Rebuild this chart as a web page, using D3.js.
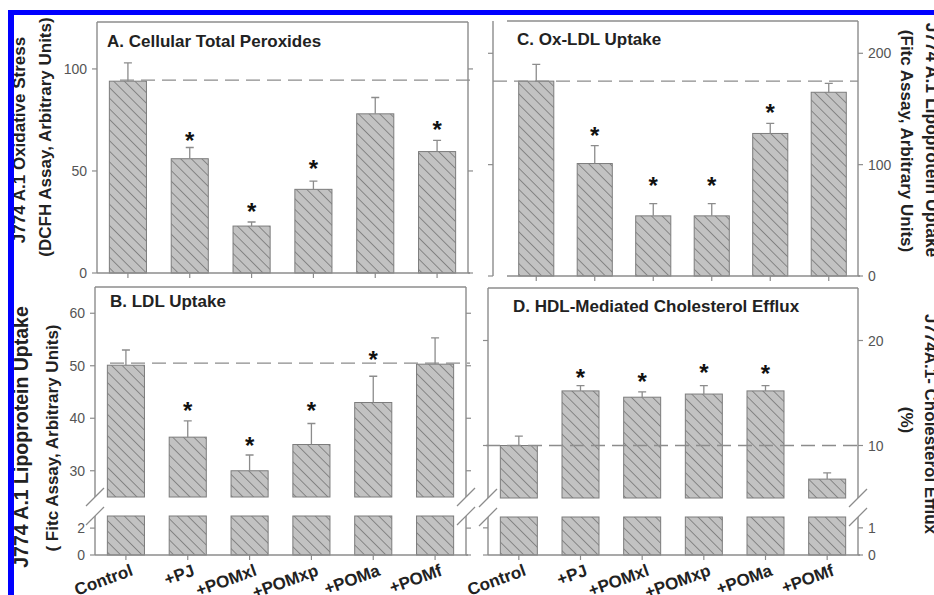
<!DOCTYPE html>
<html lang="en">
<head>
<meta charset="UTF-8">
<title>J774 A.1 macrophage assays</title>
<script src="https://d3js.org/d3.v7.min.js"></script>
<style>
  body { margin: 0; background: #fff; }
  svg { display: block; font-family: "Liberation Sans", Arial, sans-serif; }
  .frame { stroke: #8c8c8c; stroke-width: 1.4; fill: none; }
  .tick { stroke: #8c8c8c; stroke-width: 1.2; }
  .ticklab { fill: #555; font-size: 14px; }
  .bar { fill: url(#hatch); stroke: #7c7c7c; stroke-width: 1; }
  .err { stroke: #8c8c8c; stroke-width: 1.3; fill: none; }
  .ref { stroke: #8c8c8c; stroke-width: 1.4; stroke-dasharray: 14 7; fill: none; }
  .star { font-size: 24px; font-weight: bold; fill: #111; }
  .ptitle { font-size: 17px; font-weight: bold; fill: #222; }
  .atitle { font-size: 17px; font-weight: bold; fill: #222; }
  .xlab { font-size: 17px; font-weight: bold; fill: #222; }
</style>
</head>
<body>
<svg id="fig" width="934" height="595"></svg>
<script>
const categories = ["Control", "+PJ", "+POMxl", "+POMxp", "+POMa", "+POMf"];

// A. cellular total peroxides
const peroxMean = [94, 56, 23, 41, 78, 59.5];
const peroxErr = [9, 5.5, 2, 4, 8, 5.5];
const peroxStar = [null, 67.6, 32.4, 53.9, null, 73];
const peroxRef = 94.5;
const peroxTicks = [0, 50, 100];

// B. LDL uptake
const ldlMean = [50.1, 36.4, 30, 35, 43, 50.3];
const ldlErr = [2.9, 3.1, 3, 4, 5, 5];
const ldlStar = [null, 42.5, 35.7, 42.5, 52.2, null];
const ldlRef = 50.5;
const ldlTicksHigh = [30, 40, 50, 60];
const ldlTicksLow = [0, 2];

// C. Ox-LDL uptake
const oxMean = [175, 101, 54, 54, 128, 165];
const oxErr = [15, 16, 11, 11, 9, 8];
const oxStar = [null, 131, 86, 86, 151, null];
const oxRef = 175;
const oxTicks = [0, 100, 200];

// D. HDL-mediated cholesterol efflux
const effluxMean = [10, 15.2, 14.6, 14.9, 15.2, 6.8];
const effluxErr = [0.9, 0.5, 0.5, 0.8, 0.5, 0.6];
const effluxStar = [null, 17, 16.6, 17.4, 17.3, null];
const effluxRef = 10;
const effluxTicksHigh = [10, 20];
const effluxTicksLow = [0, 1];

const svg = d3.select("#fig");

// diagonal hatch for the bars
svg.append("defs").append("pattern")
  .attr("id", "hatch")
  .attr("patternUnits", "userSpaceOnUse")
  .attr("width", 7.5).attr("height", 7.5)
  .attr("patternTransform", "rotate(-45)")
  .call(p => {
    p.append("rect").attr("width", 7.5).attr("height", 7.5).attr("fill", "#c2c2c2");
    p.append("line").attr("x1", 0).attr("y1", 0).attr("x2", 0).attr("y2", 7.5)
      .attr("stroke", "#5e5e5e").attr("stroke-width", 1.2);
  });

function panel(p) {
  const g = svg.append("g");
  const x = d3.scaleBand().domain(categories).range([p.left, p.right])
    .paddingInner(0.4).paddingOuter(0.2);
  const segs = p.segments.map(s => ({
    lo: s.domain[0], hi: s.domain[1], ticks: s.ticks,
    y: d3.scaleLinear().domain(s.domain).range(s.range)
  }));
  const topSeg = segs[segs.length - 1];
  const leftX = p.leftLine || p.left;

  // bars, clipped to each segment
  segs.forEach(s => {
    g.selectAll(null).data(p.mean.filter(v => v > s.lo).map((v, i) => [v, i]))
      .enter().append("rect")
      .attr("class", "bar")
      .attr("x", d => x(categories[d[1]]))
      .attr("width", x.bandwidth())
      .attr("y", d => s.y(Math.min(d[0], s.hi)))
      .attr("height", d => s.y(s.lo) - s.y(Math.min(d[0], s.hi)));
  });

  // frame
  g.append("line").attr("class", "frame")
    .attr("x1", p.topFrom || p.left).attr("x2", p.right)
    .attr("y1", topSeg.y(topSeg.hi)).attr("y2", topSeg.y(topSeg.hi));
  g.append("line").attr("class", "frame")
    .attr("x1", p.left).attr("x2", p.right + 2)
    .attr("y1", segs[0].y(segs[0].lo)).attr("y2", segs[0].y(segs[0].lo));
  segs.forEach(s => {
    [leftX, p.right].forEach(xx => {
      g.append("line").attr("class", "frame")
        .attr("x1", xx).attr("x2", xx)
        .attr("y1", s.y(s.lo)).attr("y2", s.y(s.hi));
    });
    s.ticks.forEach(t => {
      g.append("line").attr("class", "tick")
        .attr("x1", leftX - 5).attr("x2", leftX).attr("y1", s.y(t)).attr("y2", s.y(t));
      g.append("line").attr("class", "tick")
        .attr("x1", p.right).attr("x2", p.right + 5).attr("y1", s.y(t)).attr("y2", s.y(t));
      const onLeft = p.labelSide === "left";
      g.append("text").attr("class", "ticklab")
        .attr("x", onLeft ? leftX - 10 : p.right + 10)
        .attr("y", s.y(t)).attr("dy", "0.36em")
        .attr("text-anchor", onLeft ? "end" : "start")
        .text(t);
    });
  });

  // axis break marks
  if (segs.length > 1) {
    [leftX, p.right].forEach(xx => {
      [segs[1].y(segs[1].lo), segs[0].y(segs[0].hi)].forEach(yy => {
        g.append("line").attr("class", "tick")
          .attr("x1", xx - 9).attr("y1", yy + 9).attr("x2", xx + 9).attr("y2", yy - 9);
      });
    });
  }

  // category ticks
  g.selectAll(null).data(categories).enter().append("line")
    .attr("class", "tick")
    .attr("x1", d => x(d) + x.bandwidth() / 2).attr("x2", d => x(d) + x.bandwidth() / 2)
    .attr("y1", segs[0].y(segs[0].lo)).attr("y2", segs[0].y(segs[0].lo) + 5);

  // reference (control) level
  g.append("line").attr("class", "ref")
    .attr("x1", p.refFrom).attr("x2", p.refTo)
    .attr("y1", topSeg.y(p.ref)).attr("y2", topSeg.y(p.ref));

  // error bars (upper only)
  categories.forEach((c, i) => {
    const cx = x(c) + x.bandwidth() / 2;
    const y0 = topSeg.y(p.mean[i]), y1 = topSeg.y(p.mean[i] + p.err[i]);
    g.append("path").attr("class", "err")
      .attr("d", `M${cx},${y0}V${y1}M${cx - 4},${y1}H${cx + 4}`);
    if (p.star[i] != null) {
      g.append("text").attr("class", "star")
        .attr("x", cx).attr("y", topSeg.y(p.star[i]) + 13.5)
        .attr("text-anchor", "middle").text("*");
    }
  });

  g.append("text").attr("class", "ptitle")
    .attr("x", p.titleX).attr("y", p.titleY).text(p.title);

  if (p.xLabels) {
    g.selectAll(null).data(categories).enter().append("text")
      .attr("class", "xlab")
      .attr("text-anchor", "end")
      .attr("transform", d => `translate(${x(d) + x.bandwidth() / 2 + 8},${segs[0].y(segs[0].lo) + 20}) rotate(-20)`)
      .text(d => d);
  }
}

panel({
  title: "A. Cellular Total Peroxides", titleX: 107, titleY: 47,
  left: 97, right: 468, labelSide: "left",
  segments: [{ domain: [0, 123], range: [273, 22], ticks: peroxTicks }],
  mean: peroxMean, err: peroxErr, star: peroxStar,
  ref: peroxRef, refFrom: 120, refTo: 474
});

panel({
  title: "C. Ox-LDL Uptake", titleX: 517, titleY: 45,
  left: 507, right: 858, leftLine: 493, topFrom: 507, labelSide: "right",
  segments: [{ domain: [0, 229], range: [276, 21], ticks: oxTicks }],
  mean: oxMean, err: oxErr, star: oxStar,
  ref: oxRef, refFrom: 493, refTo: 858
});

panel({
  title: "B. LDL Uptake", titleX: 110, titleY: 307,
  left: 95, right: 466, labelSide: "left", xLabels: true,
  segments: [
    { domain: [0, 2.9], range: [555, 516], ticks: ldlTicksLow },
    { domain: [25, 65], range: [497, 287], ticks: ldlTicksHigh }
  ],
  mean: ldlMean, err: ldlErr, star: ldlStar,
  ref: ldlRef, refFrom: 110, refTo: 470
});

panel({
  title: "D. HDL-Mediated Cholesterol Efflux", titleX: 513, titleY: 312,
  left: 488, right: 858, labelSide: "right", xLabels: true,
  segments: [
    { domain: [0, 1.4], range: [555, 517], ticks: effluxTicksLow },
    { domain: [5, 25], range: [498, 288], ticks: effluxTicksHigh }
  ],
  mean: effluxMean, err: effluxErr, star: effluxStar,
  ref: effluxRef, refFrom: 486, refTo: 863
});

// axis titles
function vtitle(txt, cx, cy, angle, size) {
  svg.append("text").attr("class", "atitle")
    .style("font-size", size + "px")
    .attr("text-anchor", "middle").attr("dy", "0.36em")
    .attr("transform", `translate(${cx},${cy}) rotate(${angle})`)
    .text(txt);
}
vtitle("J774 A.1 Oxidative  Stress", 19, 140, -90, 17);
vtitle("(DCFH Assay, Arbitrary Units)", 45, 137, -90, 17);
vtitle("J774 A.1 Lipoprotein Uptake", 21, 437, -90, 19.5);
vtitle("( Fitc Assay, Arbitrary Units)", 52, 438, -90, 17);
vtitle("J774 A.1 Lipoprotein Uptake", 932, 140, 90, 17.5);
vtitle("(Fitc Assay, Arbitrary Units)", 907, 141, 90, 17);
vtitle("J774A.1- Cholesterol Efflux", 931, 424, 90, 17);
vtitle("(%)", 907, 420, 90, 17);

// blue border of the figure crop
svg.append("rect").attr("x", 8).attr("y", 10).attr("width", 926).attr("height", 5).attr("fill", "#0000ff");
svg.append("rect").attr("x", 8).attr("y", 10).attr("width", 6).attr("height", 585).attr("fill", "#0000ff");
</script>
</body>
</html>
